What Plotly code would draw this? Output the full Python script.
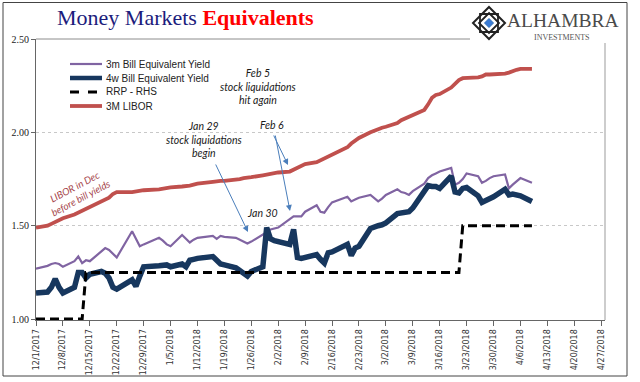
import plotly.graph_objects as go
import pandas as pd

# ---------------- data ----------------
holidays = ["2017-12-25", "2018-01-01", "2018-01-15", "2018-02-19"]
dates = [d for d in pd.bdate_range("2017-12-01", "2018-04-09")
         if d.strftime("%Y-%m-%d") not in holidays]

bill_3m = (
    [1.27, 1.285, 1.295, 1.30, 1.295, 1.28, 1.31, 1.335, 1.30, 1.315, 1.31,
     1.365, 1.38, 1.37, 1.35, 1.33, 1.47, 1.43, 1.39, 1.40] +
    [1.435, 1.42, 1.40, 1.39, 1.45, 1.43, 1.41, 1.425, 1.435, 1.445, 1.43, 1.445, 1.44,
     1.435, 1.425, 1.415, 1.405, 1.415, 1.45, 1.465, 1.48] +
    [1.485, 1.49, 1.535, 1.55, 1.55, 1.55, 1.575, 1.61, 1.575, 1.57, 1.60, 1.625,
     1.655, 1.63, 1.64, 1.65, 1.665, 1.645, 1.63] +
    [1.645, 1.665, 1.695, 1.68, 1.675, 1.665, 1.685, 1.725, 1.755, 1.77, 1.78, 1.79,
     1.81, 1.72, 1.73, 1.75, 1.78, 1.765, 1.73, 1.74, 1.755, 1.765] +
    [1.775, 1.70, 1.72, 1.735, 1.755, 1.73]
)

bill_4w = (
    [1.14, 1.145, 1.17, 1.215, 1.17, 1.14, 1.17, 1.25, 1.25, 1.22, 1.24,
     1.255, 1.245, 1.22, 1.17, 1.16, 1.21, 1.175, 1.23, 1.28] +
    [1.285, 1.29, 1.29, 1.28, 1.295, 1.28, 1.315, 1.32, 1.325, 1.335, 1.31, 1.295, 1.29,
     1.275, 1.26, 1.245, 1.23, 1.255, 1.28, 1.49, 1.43] +
    [1.42, 1.415, 1.40, 1.48, 1.33, 1.325, 1.33, 1.345, 1.32, 1.30, 1.355, 1.36,
     1.40, 1.34, 1.38, 1.39, 1.485, 1.495, 1.50] +
    [1.505, 1.515, 1.565, 1.57, 1.575, 1.575, 1.595, 1.685, 1.715, 1.71, 1.71, 1.70,
     1.765, 1.68, 1.675, 1.70, 1.705, 1.66, 1.625, 1.635, 1.645, 1.655] +
    [1.695, 1.665, 1.67, 1.665, 1.66, 1.63]
)

rrp = (
    [1.00, 1.00, 1.00, 1.00, 1.00, 1.00, 1.00, 1.00, 1.00, 1.25, 1.25,
     1.25, 1.25, 1.25, 1.25, 1.25, 1.25, 1.25, 1.25, 1.25] +
    [1.25, 1.25, 1.25, 1.25, 1.25, 1.25, 1.25, 1.25, 1.25, 1.25, 1.25, 1.25, 1.25,
     1.25, 1.25, 1.25, 1.25, 1.25, 1.25, 1.25, 1.25] +
    [1.25, 1.25, 1.25, 1.25, 1.25, 1.25, 1.25, 1.25, 1.25, 1.25, 1.25, 1.25,
     1.25, 1.25, 1.25, 1.25, 1.25, 1.25, 1.25] +
    [1.25, 1.25, 1.25, 1.25, 1.25, 1.25, 1.25, 1.25, 1.25, 1.25, 1.25, 1.25,
     1.25, 1.25, 1.25, 1.50, 1.50, 1.50, 1.50, 1.50, 1.50, 1.50] +
    [1.50, 1.50, 1.50, 1.50, 1.50, 1.50]
)

libor_3m = (
    [1.49, 1.50, 1.51, 1.52, 1.53, 1.54, 1.56, 1.57, 1.58, 1.59, 1.60,
     1.63, 1.64, 1.65, 1.67, 1.68, 1.68, 1.685, 1.69, 1.69] +
    [1.695, 1.70, 1.70, 1.705, 1.71, 1.71, 1.715, 1.72, 1.725, 1.735, 1.74, 1.74, 1.74,
     1.745, 1.75, 1.755, 1.76, 1.76, 1.77, 1.775, 1.78] +
    [1.785, 1.785, 1.79, 1.80, 1.81, 1.82, 1.83, 1.84, 1.85, 1.86, 1.875, 1.88,
     1.92, 1.94, 1.955, 1.97, 2.00, 2.01, 2.02] +
    [2.025, 2.03, 2.05, 2.065, 2.075, 2.085, 2.09, 2.12, 2.15, 2.185, 2.20, 2.205,
     2.24, 2.26, 2.28, 2.29, 2.29, 2.295, 2.30, 2.31, 2.31, 2.31] +
    [2.315, 2.32, 2.33, 2.335, 2.34, 2.34]
)

for name, s in [("bill_3m", bill_3m), ("bill_4w", bill_4w), ("rrp", rrp), ("libor", libor_3m)]:
    if len(s) != len(dates):
        raise ValueError(f"{name} has {len(s)} values, expected {len(dates)}")

series_names = ["3m Bill Equivalent Yield", "4w Bill Equivalent Yield", "RRP - RHS", "3M LIBOR"]
series_data = [bill_3m, bill_4w, rrp, libor_3m]
series_colors = ["#8064a2", "#17375e", "#000000", "#c0504d"]
series_widths = [2.2, 5.5, 3, 3.8]
series_dash = ["solid", "solid", "9px,5px", "solid"]

y_ticks = [1.00, 1.50, 2.00, 2.50]

# ---------------- layout helpers (pixel -> paper) ----------------
L, T, W, H = 36, 39, 569, 281
def PX(x):
    return (x - L) / W
def PY(y):
    return (T + H - y) / H

fig = go.Figure()
for nm, ys, c, w, d in zip(series_names, series_data, series_colors, series_widths, series_dash):
    fig.add_trace(go.Scatter(x=dates, y=ys, name=nm, mode="lines",
                             line=dict(color=c, width=w, dash=d), showlegend=False))

shapes = []
annotations = []

# outer frame
shapes.append(dict(type="rect", xref="paper", yref="paper",
                   x0=PX(3), x1=PX(627), y0=PY(376), y1=PY(2.5),
                   line=dict(color="#444444", width=1)))
# top line at 2.50 (partially hidden by logo) and right border
shapes.append(dict(type="line", xref="paper", yref="paper",
                   x0=0, x1=PX(470), y0=1, y1=1, line=dict(color="#8c8c8c", width=1)))
shapes.append(dict(type="line", xref="paper", yref="paper",
                   x0=1, x1=1, y0=0, y1=PY(43), line=dict(color="#bdbdbd", width=1.5)))

# manual legend
leg_y = [64, 78, 92, 106]
for nm, c, w, d, yy in zip(series_names, series_colors, series_widths, series_dash, leg_y):
    lw = min(w, 4.5)
    shapes.append(dict(type="line", xref="paper", yref="paper",
                       x0=PX(70), x1=PX(102), y0=PY(yy), y1=PY(yy),
                       line=dict(color=c, width=lw, dash=("dash" if d != "solid" else "solid"))))
    annotations.append(dict(xref="paper", yref="paper", x=PX(104), y=PY(yy),
                            text=nm, showarrow=False, xanchor="left", yanchor="middle",
                            font=dict(family="Liberation Sans, Arial", size=10, color="#222222")))

# title
annotations.append(dict(xref="paper", yref="paper", x=PX(185), y=PY(18),
                        text="<span style='color:#1c1c7c'>Money Markets</span> "
                             "<b><span style='color:#ff0000'>Equivalents</span></b>",
                        showarrow=False, xanchor="center", yanchor="middle",
                        font=dict(family="Liberation Serif, Times New Roman", size=22)))

# logo
cx, cy, r = 489, 23, 16
def diamond(cx, cy, r):
    return (f"M {PX(cx)} {PY(cy - r)} L {PX(cx + r)} {PY(cy)} "
            f"L {PX(cx)} {PY(cy + r)} L {PX(cx - r)} {PY(cy)} Z")
shapes.append(dict(type="path", xref="paper", yref="paper", path=diamond(cx, cy, r),
                   line=dict(color="#222222", width=2), fillcolor="white"))
shapes.append(dict(type="rect", xref="paper", yref="paper",
                   x0=PX(cx - 9), x1=PX(cx + 9), y0=PY(cy + 9), y1=PY(cy - 9),
                   line=dict(color="#222222", width=1.8)))
shapes.append(dict(type="path", xref="paper", yref="paper", path=diamond(cx, cy, 10),
                   line=dict(color="#222222", width=1.8)))
shapes.append(dict(type="path", xref="paper", yref="paper", path=diamond(cx, cy, 4.5),
                   line=dict(color="#2e6db5", width=1), fillcolor="#3a7bd5"))
annotations.append(dict(xref="paper", yref="paper", x=PX(562.5), y=PY(20.5),
                        text="ALHAMBRA", showarrow=False, xanchor="center", yanchor="middle",
                        font=dict(family="Liberation Serif", size=19.5, color="#4a4a4a")))
annotations.append(dict(xref="paper", yref="paper", x=PX(562), y=PY(37),
                        text="INVESTMENTS", showarrow=False, xanchor="center", yanchor="middle",
                        font=dict(family="Liberation Serif", size=8, color="#555555")))

# callouts
note_font = dict(family="Lato, Open Sans", size=10.5, color="#1a1a1a")
annotations.append(dict(xref="paper", yref="paper", x=PX(204), y=PY(139),
                        text="<i>Jan 29<br>stock liquidations<br>begin</i>", showarrow=False,
                        xanchor="center", yanchor="middle", font=note_font))
annotations.append(dict(xref="paper", yref="paper", x=PX(258), y=PY(86),
                        text="<i>Feb 5<br>stock liquidations<br>hit again</i>", showarrow=False,
                        xanchor="center", yanchor="middle", font=note_font))
annotations.append(dict(xref="paper", yref="paper", x=PX(272), y=PY(125),
                        text="<i>Feb 6</i>", showarrow=False,
                        xanchor="center", yanchor="middle", font=note_font))
annotations.append(dict(xref="paper", yref="paper", x=PX(262), y=PY(213),
                        text="<i>Jan 30</i>", showarrow=False,
                        xanchor="center", yanchor="middle", font=note_font))
annotations.append(dict(xref="paper", yref="paper", x=PX(77), y=PY(192),
                        text="<i>LIBOR in Dec<br>before bill yields</i>", showarrow=False,
                        textangle=-28, xanchor="center", yanchor="middle",
                        font=dict(family="Lato, Open Sans", size=9.8, color="#a5454a")))

# arrows (tail -> head in pixels)
arrows = [((215, 163), (248, 232)), ((273, 134), (288, 165)), ((275, 134), (290, 211))]
for (tx, ty), (hx, hy) in arrows:
    annotations.append(dict(xref="paper", yref="paper", x=PX(hx), y=PY(hy),
                            axref="pixel", ayref="pixel", ax=tx - hx, ay=ty - hy,
                            text="", showarrow=True, arrowhead=2, arrowsize=1.2,
                            arrowwidth=1, arrowcolor="#4a7ebb"))

fig.update_layout(
    template="none",
    width=640, height=382,
    margin=dict(l=L, r=640 - L - W, t=T, b=382 - T - H, autoexpand=False),
    paper_bgcolor="white", plot_bgcolor="white",
    showlegend=False,
    shapes=shapes, annotations=annotations,
    xaxis=dict(type="date", range=["2017-12-01", "2018-04-28"], automargin=False,
               tick0="2017-12-01", dtick=7 * 86400000, tickformat="%-m/%-d/%Y",
               tickangle=-90, ticks="outside", ticklen=5, tickcolor="#666666",
               showline=True, linecolor="#666666", linewidth=1,
               showgrid=False, zeroline=False,
               tickfont=dict(family="DejaVu Sans", size=8, color="#333333")),
    yaxis=dict(range=[0.995, 2.5], tickvals=y_ticks, tickformat=".2f", automargin=False,
               ticks="outside", ticklen=4, tickcolor="#666666",
               showline=True, linecolor="#666666", linewidth=1,
               showgrid=True, gridcolor="#c8c8c8", griddash="dot", gridwidth=1,
               zeroline=False,
               tickfont=dict(family="Liberation Serif", size=10, color="#222222")),
)

fig.write_html("out.html", config={"displayModeBar": False},
               post_script="document.body.style.margin='0px';document.body.style.overflow='hidden';")
